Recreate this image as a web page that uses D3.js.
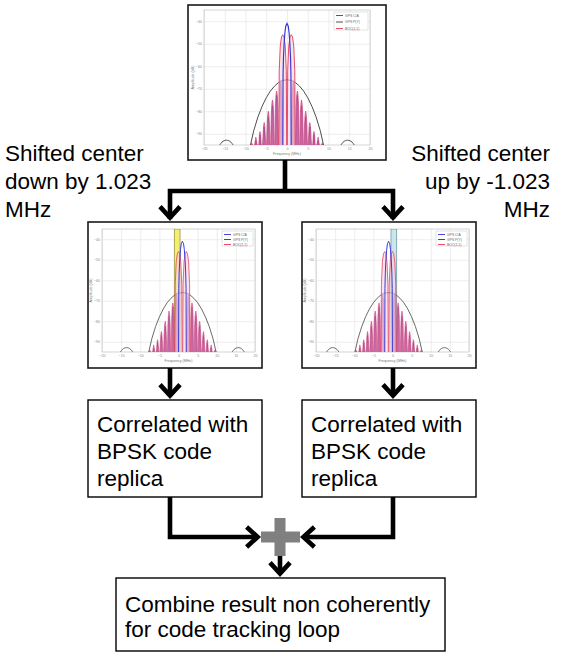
<!DOCTYPE html>
<html>
<head>
<meta charset="utf-8">
<script src="https://cdn.jsdelivr.net/npm/d3@7"></script>
<style>
  html, body { margin: 0; padding: 0; background: #fff; }
  svg { display: block; font-family: "Liberation Sans", Arial, sans-serif; }
</style>
</head>
<body>
<svg id="fig" width="561" height="654"></svg>
<script>
// ---- spectrum data: frequency in MHz, amplitude in dB ----
const freqTicks = [-20, -15, -10, -5, 0, 5, 10, 15, 20];
const ampTicks = [-90, -80, -70, -60, -50, -40];
const seriesNames = ["GPS C/A", "GPS P(Y)", "BOC(1,1)"];

// GPS P(Y) main lobe
const pyFreq = [-8.8, -8, -7, -6, -5, -4, -3, -2, -1, 0, 1, 2, 3, 4, 5, 6, 7, 8, 8.8];
const pyAmp  = [-95, -88.5, -82.5, -77.8, -74, -71, -68.8, -67.2, -66.3, -66, -66.3, -67.2, -68.8, -71, -74, -77.8, -82.5, -88.5, -95];
// GPS P(Y) first side lobes
const pySideCenter = [-14.6, 14.6];
const pySideOffset = [-1.6, -1.1, -0.5, 0, 0.5, 1.1, 1.6];
const pySideAmp    = [-95, -93.6, -93, -92.8, -93, -93.6, -95];

// GPS C/A main lobe
const caMainFreq = [-1.0, -0.95, -0.85, -0.7, -0.5, -0.3, 0, 0.3, 0.5, 0.7, 0.85, 0.95, 1.0];
const caMainAmp  = [-95, -64, -56, -50, -45, -42.2, -41, -42.2, -45, -50, -56, -64, -95];

// BOC(1,1) main lobes
const bocMainCenter = [-1.023, 1.023];
const bocMainOffset = [-0.95, -0.85, -0.6, -0.3, 0, 0.3, 0.6, 0.85, 0.95];
const bocMainAmp    = [-95, -62, -51, -47, -46, -47, -51, -62, -95];

// side-lobe comb (lobe centres and peak levels)
const lobeFreq   = [-8.5, -7.5, -6.5, -5.5, -4.5, -3.5, -2.5, -1.5, 1.5, 2.5, 3.5, 4.5, 5.5, 6.5, 7.5, 8.5];
const bocLobeAmp = [-94, -91.5, -89, -85, -80, -75, -71, -67, -67, -71, -75, -80, -85, -89, -91.5, -94];
const caLobeAmp  = [-95, -93, -90.5, -87, -82.5, -77.5, -73, -66, -66, -73, -77.5, -82.5, -87, -90.5, -93, -95];

// centre shift of each panel (MHz) and highlighted band
const panelShift = [0, 1.023, -1.023];
const panelBand  = [null, [-1.1, 0.4], [-0.4, 1.1]];

// ---- flow chart text ----
const noteLeft    = ["Shifted center", "down by 1.023", "MHz"];
const noteRight   = ["Shifted center", "up by -1.023", "MHz"];
const corrText    = ["Correlated with", "BPSK code", "replica"];
const combineText = ["Combine result non coherently", "for code tracking loop"];

// ---- styling ----
const C = {
  ca: "#3535d6", py: "#3a3a3a", boc: "#e23a5a",
  lobeFill: "#e77fae", lobeStroke: "#c4306c",
  grid: "#e2e2e2", frame: "#b9b9b9", tick: "#8a8a8a",
  plus: "#808080"
};
const bandStyle = [null,
  { fill: "#f3ec55", stroke: "#8d8a3a" },
  { fill: "#c3e2e7", stroke: "#5f909a" }];

const panelLayout = [
  { box: [188, 5, 198, 155],  plot: [204, 10, 166, 135] },
  { box: [88, 222, 174, 146], plot: [102, 229, 153, 123] },
  { box: [302, 222, 174, 146], plot: [316, 229, 153, 123] }
];

const svg = d3.select("#fig");
const defs = svg.append("defs");

function drawPanel(i) {
  const L = panelLayout[i];
  const [bx, by, bw, bh] = L.box;
  const [px, py, pw, ph] = L.plot;
  const shift = panelShift[i];
  const small = i > 0;
  const g = svg.append("g");

  g.append("rect").attr("x", bx).attr("y", by).attr("width", bw).attr("height", bh)
    .attr("fill", "#fff").attr("stroke", "#1a1a1a").attr("stroke-width", 1.6);

  const x = d3.scaleLinear().domain([-20, 20]).range([px, px + pw]);
  const y = d3.scaleLinear().domain([-95, -35]).range([py + ph, py]).clamp(true);

  // grid + tick labels through axes
  const xa = g.append("g").attr("transform", `translate(0,${py + ph})`)
    .call(d3.axisBottom(x).tickValues(freqTicks).tickSize(-ph).tickPadding(2).tickFormat(d3.format("d")));
  const ya = g.append("g").attr("transform", `translate(${px},0)`)
    .call(d3.axisLeft(y).tickValues(ampTicks).tickSize(-pw).tickPadding(2).tickFormat(d3.format("d")));
  [xa, ya].forEach(a => {
    a.select(".domain").remove();
    a.selectAll(".tick line").attr("stroke", C.grid).attr("stroke-width", 0.6);
    a.selectAll(".tick text").attr("fill", C.tick).attr("font-size", 3.6)
      .attr("font-family", "Liberation Sans, Arial, sans-serif");
  });

  g.append("rect").attr("x", px).attr("y", py).attr("width", pw).attr("height", ph)
    .attr("fill", "none").attr("stroke", C.frame).attr("stroke-width", 0.6);

  g.append("text").attr("x", px + pw / 2).attr("y", py + ph + 9.5)
    .attr("text-anchor", "middle").attr("font-size", 3.6).attr("fill", "#777").text("Frequency (MHz)");
  g.append("text").attr("transform", `translate(${px - 10},${py + ph / 2}) rotate(-90)`)
    .attr("text-anchor", "middle").attr("font-size", 3.6).attr("fill", "#777").text("Amplitude (dB)");

  const clipId = "clip" + i;
  defs.append("clipPath").attr("id", clipId)
    .append("rect").attr("x", px).attr("y", py).attr("width", pw).attr("height", ph);
  const pg = g.append("g").attr("clip-path", `url(#${clipId})`);

  // highlighted band
  if (panelBand[i]) {
    const b = panelBand[i];
    pg.append("rect").attr("x", x(b[0])).attr("y", py).attr("width", x(b[1]) - x(b[0])).attr("height", ph)
      .attr("fill", bandStyle[i].fill).attr("fill-opacity", 0.85)
      .attr("stroke", bandStyle[i].stroke).attr("stroke-width", 0.7);
  }

  const line = d3.line().x(d => x(d[0] + shift)).y(d => y(d[1]));
  const lw = small ? 0.75 : 0.9;

  // P(Y) main lobe and side lobes
  pg.append("path").datum(pyFreq.map((f, k) => [f, pyAmp[k]]))
    .attr("d", line).attr("fill", "none").attr("stroke", C.py).attr("stroke-width", lw);
  pySideCenter.forEach(c => {
    pg.append("path").datum(pySideOffset.map((o, k) => [c + o, pySideAmp[k]]))
      .attr("d", d3.line().curve(d3.curveBasis).x(d => x(d[0] + shift)).y(d => y(d[1])))
      .attr("fill", "none").attr("stroke", C.py).attr("stroke-width", lw);
  });

  // narrow lobe outline around a centre frequency
  const lobe = (c, a, hw) => [[c - hw, -95], [c - hw * 0.72, a - 7], [c - hw * 0.34, a - 1.5], [c, a],
                              [c + hw * 0.34, a - 1.5], [c + hw * 0.72, a - 7], [c + hw, -95]];

  // BOC(1,1) side-lobe comb (filled)
  lobeFreq.forEach((c, k) => {
    pg.append("path").datum(lobe(c, bocLobeAmp[k], 0.42))
      .attr("d", line).attr("fill", C.lobeFill).attr("stroke", C.lobeStroke).attr("stroke-width", small ? 0.5 : 0.6);
  });
  // C/A side lobes
  lobeFreq.forEach((c, k) => {
    pg.append("path").datum(lobe(c, caLobeAmp[k], 0.16))
      .attr("d", line).attr("fill", "none").attr("stroke", "#6a2a8a").attr("stroke-width", small ? 0.4 : 0.5)
      .attr("stroke-opacity", 0.7);
  });
  // BOC(1,1) main lobes
  bocMainCenter.forEach(c => {
    pg.append("path").datum(bocMainOffset.map((o, k) => [c + o, bocMainAmp[k]]))
      .attr("d", line).attr("fill", "#f6d3e2").attr("fill-opacity", 0.6)
      .attr("stroke", C.boc).attr("stroke-width", lw);
  });
  // C/A main lobe
  pg.append("path").datum(caMainFreq.map((f, k) => [f, caMainAmp[k]]))
    .attr("d", line).attr("fill", "none").attr("stroke", C.ca).attr("stroke-width", lw * 1.3);

  // legend
  const lgW = small ? 31 : 34, lgH = small ? 15 : 18;
  const lx = px + pw - lgW - 2, ly = py + 2;
  g.append("rect").attr("x", lx).attr("y", ly).attr("width", lgW).attr("height", lgH)
    .attr("fill", "#fff").attr("stroke", "#c8c8c8").attr("stroke-width", 0.5);
  const lc = [C.ca, C.py, C.boc];
  seriesNames.forEach((name, k) => {
    const yy = ly + 3.5 + k * (lgH - 5) / 2;
    g.append("line").attr("x1", lx + 2).attr("x2", lx + 9).attr("y1", yy).attr("y2", yy)
      .attr("stroke", lc[k]).attr("stroke-width", 0.9);
    g.append("text").attr("x", lx + 11).attr("y", yy + 1.2).attr("font-size", 3.4)
      .attr("fill", "#666").text(name);
  });
}

[0, 1, 2].forEach(drawPanel);

// ---- flow chart connectors ----
const SW = 4.6;
const conn = svg.append("g").attr("fill", "none").attr("stroke", "#000")
  .attr("stroke-width", SW).attr("stroke-linejoin", "miter").attr("stroke-miterlimit", 10);

function arrowHead(tx, ty, dir) {
  // open chevron; tip pulled back so the miter point lands on (tx, ty)
  const back = 3.4, depth = 11, half = 10;
  let p;
  if (dir === "down")  { ty -= back; p = [[tx - half, ty - depth], [tx, ty], [tx + half, ty - depth]]; }
  if (dir === "right") { tx -= back; p = [[tx - depth, ty - half], [tx, ty], [tx - depth, ty + half]]; }
  if (dir === "left")  { tx += back; p = [[tx + depth, ty - half], [tx, ty], [tx + depth, ty + half]]; }
  conn.append("path").attr("d", d3.line()(p));
}

const xL = 170, xR = 393, xTop = 285, yBus = 191;
conn.append("path").attr("d", `M${xTop},160 V${yBus}`);
conn.append("path").attr("d", `M${xL},219 V${yBus} H${xR} V219`);
arrowHead(xL, 221, "down");
arrowHead(xR, 221, "down");

conn.append("path").attr("d", `M${xL},368 V396`);
conn.append("path").attr("d", `M${xR},368 V396`);
arrowHead(xL, 399, "down");
arrowHead(xR, 399, "down");

conn.append("path").attr("d", `M${xL},497 V537 H258`);
conn.append("path").attr("d", `M${xR},497 V537 H303`);
arrowHead(261, 537, "right");
arrowHead(300, 537, "left");

// summing node
const plus = svg.append("g").attr("fill", C.plus);
plus.append("rect").attr("x", 261).attr("y", 531.5).attr("width", 39).attr("height", 11);
plus.append("rect").attr("x", 274.5).attr("y", 518).attr("width", 11).attr("height", 38);

conn.append("path").attr("d", `M280,556 V574`);
arrowHead(280, 577, "down");

// ---- text boxes ----
function textBox(bx, by, bw, bh, lines, tx, ty, lh) {
  svg.append("rect").attr("x", bx).attr("y", by).attr("width", bw).attr("height", bh)
    .attr("fill", "#fff").attr("stroke", "#000").attr("stroke-width", 1.4);
  const t = svg.append("text").attr("font-size", 22.5).attr("fill", "#000");
  lines.forEach((s, k) => t.append("tspan").attr("x", tx).attr("y", ty + k * lh).text(s));
}
textBox(88, 400, 174, 97, corrText, 97, 432, 27);
textBox(302, 400, 174, 97, corrText, 311, 432, 27);
textBox(116, 578, 329, 73, combineText, 125, 612, 25);

// side notes
const nl = svg.append("text").attr("font-size", 22.5).attr("fill", "#000");
noteLeft.forEach((s, k) => nl.append("tspan").attr("x", 5).attr("y", 161 + k * 28).text(s));
const nr = svg.append("text").attr("font-size", 22.5).attr("fill", "#000").attr("text-anchor", "end");
noteRight.forEach((s, k) => nr.append("tspan").attr("x", 550).attr("y", 161 + k * 28).text(s));
</script>
</body>
</html>
